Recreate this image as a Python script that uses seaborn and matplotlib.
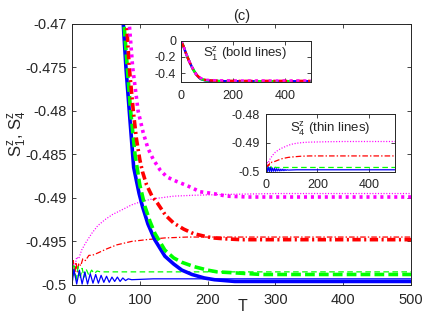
import matplotlib
matplotlib.use("Agg")
import matplotlib.pyplot as plt
import seaborn as sns

# ---- data ------------------------------------------------------------
# bold lines: S1^z (all four curves start at 0 and relax towards -0.5)
s1_blue_t = [0, 10, 20, 30, 40, 50, 60, 70, 75.7, 79.6, 84.5, 91, 99, 104, 112, 122, 137,
             150, 162, 177, 195, 210, 240, 300, 500]
s1_blue = [0, -0.07, -0.16, -0.24, -0.31, -0.37, -0.42, -0.455, -0.47, -0.475, -0.48, -0.4865,
           -0.4895, -0.491, -0.493, -0.4948, -0.4967, -0.4976, -0.4983, -0.4988, -0.4992,
           -0.4994, -0.4996, -0.4996, -0.4996]

s1_green_t = [0, 10, 20, 30, 40, 50, 60, 70, 76.7, 81.6, 86.5, 93, 100, 107.7, 115, 122.4,
              137, 150, 162, 180, 200, 214, 237, 280, 500]
s1_green = [0, -0.07, -0.16, -0.24, -0.31, -0.37, -0.42, -0.455, -0.47, -0.475, -0.48, -0.485,
            -0.4885, -0.491, -0.4927, -0.4941, -0.496, -0.4969, -0.4974, -0.4979, -0.4983,
            -0.4985, -0.4986, -0.4988, -0.4988]

s1_red_t = [0, 10, 20, 30, 40, 50, 60, 70, 80.6, 84.5, 90.4, 95, 100, 104, 110, 118, 126,
            138, 150, 165, 179, 195, 208, 225, 250, 300, 500]
s1_red = [0, -0.07, -0.16, -0.24, -0.31, -0.37, -0.42, -0.45, -0.47, -0.475, -0.48, -0.4832,
          -0.4856, -0.487, -0.4885, -0.4898, -0.4906, -0.492, -0.4929, -0.4936, -0.4941,
          -0.4944, -0.4946, -0.4947, -0.4948, -0.4948, -0.4948]

s1_mag_t = [0, 10, 20, 30, 40, 50, 60, 70, 84.5, 89.5, 97.5, 105, 112, 120, 130, 140, 154,
            170, 189, 208, 228, 260, 300, 500]
s1_mag = [0, -0.07, -0.16, -0.24, -0.31, -0.37, -0.42, -0.45, -0.47, -0.475, -0.48, -0.4825,
          -0.4843, -0.4856, -0.4868, -0.4876, -0.4881, -0.4886, -0.4893, -0.4895, -0.4898,
          -0.4899, -0.4899, -0.4899]

# thin lines: S4^z (start at -0.5, oscillate / rise to a plateau)
s4_blue_t = [0, 3, 7, 11, 15, 19, 23, 27, 31, 35, 39, 43, 47, 51, 55, 59, 63, 67, 71, 75,
             79, 83, 88, 120, 500]
s4_blue = [-0.5, -0.4982, -0.4999, -0.4983, -0.4999, -0.4985, -0.4999, -0.4987, -0.4998,
           -0.4988, -0.4998, -0.4989, -0.4997, -0.499, -0.4997, -0.4991, -0.4996, -0.4991,
           -0.4996, -0.4992, -0.4995, -0.4993, -0.4994, -0.4993, -0.4993]

s4_green_t = [0, 3, 6, 9, 12, 15, 18, 21, 25, 29, 33, 37, 42, 60, 500]
s4_green = [-0.5, -0.4978, -0.4996, -0.4979, -0.4993, -0.4981, -0.4991, -0.4982, -0.4989,
            -0.4983, -0.4987, -0.4984, -0.4985, -0.4985, -0.4985]

s4_red_t = [0, 2, 4, 6, 8, 10, 13, 16, 20, 25, 30, 39, 50, 66, 88, 110, 137, 170, 220, 300, 500]
s4_red = [-0.5, -0.4972, -0.499, -0.4974, -0.4985, -0.4975, -0.4978, -0.497, -0.4972,
          -0.4966, -0.4966, -0.4963, -0.4959, -0.4954, -0.495, -0.4948, -0.4946, -0.4945,
          -0.4945, -0.4945, -0.4945]

s4_mag_t = [0, 2, 4.4, 7, 10, 14.3, 20, 29, 38, 48.7, 60, 73, 88, 103, 120, 150, 179, 228,
            300, 500]
s4_mag = [-0.5, -0.4975, -0.4979, -0.4968, -0.497, -0.496, -0.4952, -0.4941, -0.4932,
          -0.4925, -0.4919, -0.4914, -0.4908, -0.4904, -0.4901, -0.4898, -0.4897, -0.4896,
          -0.4895, -0.4895]

main_yticks = [-0.5, -0.495, -0.49, -0.485, -0.48, -0.475, -0.47]
main_ylabels = ["-0.5", "-0.495", "-0.49", "-0.485", "-0.48", "-0.475", "-0.47"]
main_xticks = [0, 100, 200, 300, 400, 500]
in1_yticks = [0, -0.2, -0.4]
in1_ylabels = ["0", "-0.2", "-0.4"]
in2_yticks = [-0.48, -0.49, -0.5]
in2_ylabels = ["-0.48", "-0.49", "-0.5"]
inset_xticks = [0, 200, 400]

# ---- style ----------------------------------------------------------
sns.set_theme(style="ticks")
plt.rcParams["font.family"] = ["Liberation Sans", "DejaVu Sans"]
plt.rcParams["lines.scale_dashes"] = False
plt.rcParams["mathtext.fontset"] = "custom"
plt.rcParams["mathtext.rm"] = "Liberation Sans"
plt.rcParams["mathtext.it"] = "Liberation Sans:italic"

AXC = "#262626"
BLUE, GREEN, RED, MAG = "#0000ff", "#00ff00", "#ff0000", "#ff00ff"

bold = {
    "blue": (s1_blue_t, s1_blue, BLUE, "-"),
    "green": (s1_green_t, s1_green, GREEN, (0, (7, 3))),
    "red": (s1_red_t, s1_red, RED, (0, (6, 2.5, 1.5, 2.5))),
    "mag": (s1_mag_t, s1_mag, MAG, (0, (2.2, 2.8))),
}
thin = {
    "blue": (s4_blue_t, s4_blue, BLUE, "-"),
    "green": (s4_green_t, s4_green, GREEN, (0, (4, 2.5))),
    "red": (s4_red_t, s4_red, RED, (0, (4, 1.5, 1, 1.5))),
    "mag": (s4_mag_t, s4_mag, MAG, (0, (0.8, 1.2))),
}


def style_axes(ax, size, xpad, ypad):
    for sp in ax.spines.values():
        sp.set_visible(True)
        sp.set_color(AXC)
        sp.set_linewidth(0.7)
    ax.tick_params(direction="in", top=True, right=True, length=3, width=0.6,
                   colors=AXC, labelsize=size)
    ax.tick_params(axis="x", pad=xpad)
    ax.tick_params(axis="y", pad=ypad)
    ax.grid(False)
    ax.set_xlabel("")
    ax.set_ylabel("")


fig = plt.figure(figsize=(4.36, 3.26), dpi=100)

# main axes
ax = fig.add_axes([0.165, 0.126, 0.778, 0.801])
for key in ["mag", "red", "green", "blue"]:
    t, v, c, ls = thin[key]
    sns.lineplot(x=t, y=v, ax=ax, color=c, linestyle=ls, linewidth=0.9, sort=False)
for key in ["blue", "green", "red", "mag"]:
    t, v, c, ls = bold[key]
    sns.lineplot(x=t, y=v, ax=ax, color=c, linestyle=ls, linewidth=2.6, sort=False)
ax.set_xlim(0, 500)
ax.set_ylim(-0.5, -0.47)
ax.set_xticks(main_xticks)
ax.set_yticks(main_yticks)
ax.set_yticklabels(main_ylabels)
style_axes(ax, 10.5, 6, 3.5)
fig.text(0.04, 0.59, r"S$_1^{\mathrm{z}}$, S$_4^{\mathrm{z}}$", rotation=90, ha="center",
         va="center", fontsize=12, color=AXC)
ax.text(0.504, -0.083, "T", transform=ax.transAxes, ha="center", va="center",
        fontsize=11.5, color=AXC)
ax.set_title("(c)", fontsize=10.5, color=AXC, pad=3)

# inset 1: S1^z, bold lines
ax1 = fig.add_axes([0.415, 0.748, 0.298, 0.127])
for key in ["blue", "green", "red", "mag"]:
    t, v, c, ls = bold[key]
    sns.lineplot(x=t, y=v, ax=ax1, color=c, linestyle=ls, linewidth=1.8, sort=False)
ax1.set_xlim(0, 500)
ax1.set_ylim(-0.51, 0.0)
ax1.set_xticks(inset_xticks)
ax1.set_yticks(in1_yticks)
ax1.set_yticklabels(in1_ylabels)
style_axes(ax1, 9, 5.5, 3.5)
ax1.text(0.49, 0.68, r"S$_1^{\mathrm{z}}$ (bold lines)", transform=ax1.transAxes,
         ha="center", va="center", fontsize=9.5, color=AXC)

# inset 2: S4^z, thin lines
ax2 = fig.add_axes([0.609, 0.473, 0.297, 0.177])
for key in ["mag", "red", "green", "blue"]:
    t, v, c, ls = thin[key]
    sns.lineplot(x=t, y=v, ax=ax2, color=c, linestyle=ls, linewidth=0.9, sort=False)
ax2.set_xlim(0, 500)
ax2.set_ylim(-0.5, -0.48)
ax2.set_xticks(inset_xticks)
ax2.set_yticks(in2_yticks)
ax2.set_yticklabels(in2_ylabels)
style_axes(ax2, 9, 5.5, 4)
ax2.text(0.5, 0.74, r"S$_4^{\mathrm{z}}$ (thin lines)", transform=ax2.transAxes,
         ha="center", va="center", fontsize=9.5, color=AXC)

fig.savefig("out.png", dpi=100)
